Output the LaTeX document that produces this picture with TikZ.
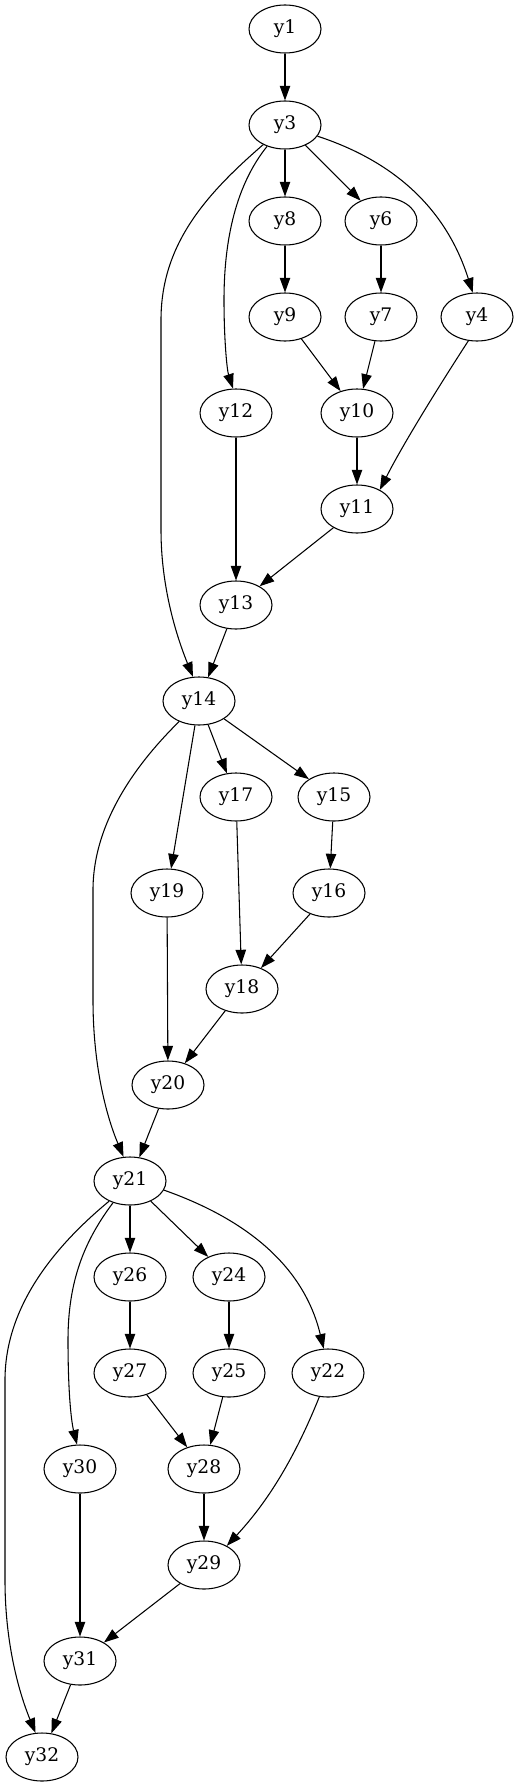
\documentclass[tikz,border=0pt]{standalone}
\usepackage{fontspec}
\setmainfont{DejaVu Serif}
\usetikzlibrary{shapes.geometric,arrows.meta}

\begin{document}
\begin{tikzpicture}[x=0.75pt, y=-0.75pt,
    yv/.style={ellipse, draw, line width=0.8pt, minimum width=54pt, minimum height=36pt, inner sep=0pt, font=\fontsize{14}{16}\selectfont},
    arr/.style={line width=0.8pt, -{Triangle[length=11pt, width=7.8pt]}}]

    \useasboundingbox (0,0) rectangle (519,1787);

    % upper block
    \node[yv] (y1) at (285,29) {y1};
    \node[yv] (y3) at (285,125) {y3};
    \node[yv] (y8) at (285,221) {y8};
    \node[yv] (y6) at (381,221) {y6};
    \node[yv] (y9) at (285,317) {y9};
    \node[yv] (y7) at (381,317) {y7};
    \node[yv] (y4) at (477,317) {y4};
    \node[yv] (y12) at (236,413) {y12};
    \node[yv] (y10) at (357,413) {y10};
    \node[yv] (y11) at (357,509) {y11};
    \node[yv] (y13) at (236,605) {y13};

    % middle block
    \node[yv] (y14) at (199,701) {y14};
    \node[yv] (y17) at (236,797) {y17};
    \node[yv] (y15) at (334,797) {y15};
    \node[yv] (y19) at (167,893) {y19};
    \node[yv] (y16) at (329,893) {y16};
    \node[yv] (y18) at (242,989) {y18};
    \node[yv] (y20) at (168,1085) {y20};

    % lower block
    \node[yv] (y21) at (130,1181) {y21};
    \node[yv] (y26) at (130,1277) {y26};
    \node[yv] (y24) at (229,1277) {y24};
    \node[yv] (y27) at (130,1373) {y27};
    \node[yv] (y25) at (229,1373) {y25};
    \node[yv] (y22) at (328,1373) {y22};
    \node[yv] (y30) at (80,1469) {y30};
    \node[yv] (y28) at (204,1469) {y28};
    \node[yv] (y29) at (204,1565) {y29};
    \node[yv] (y31) at (80,1661) {y31};
    \node[yv] (y32) at (42,1757) {y32};

    \draw[arr] (y1) -- (y3);
    \draw[arr] (y3) -- (y8);
    \draw[arr] (y3) -- (y6);
    \draw[arr] (y8) -- (y9);
    \draw[arr] (y6) -- (y7);
    \draw[arr] (y9) -- (y10);
    \draw[arr] (y7) -- (y10);
    \draw[arr] (y10) -- (y11);
    \draw[arr] (y4.250) .. controls (430,400) and (400,450) .. (y11.40);
    \draw[arr] (y12) -- (y13);
    \draw[arr] (y11) -- (y13);
    \draw[arr] (y13) -- (y14);
    \draw[arr] (y3.341) .. controls (390,160) and (445,205) .. (y4.100);
    \draw[arr] (y3.230) .. controls (240,180) and (224,230) .. (224,300) .. controls (224,340) and (227,370) .. (y12.97);
    \draw[arr] (y3.222) .. controls (205,195) and (161,245) .. (161,320) -- (161,530) .. controls (161,590) and (178,640) .. (y14.104);

    \draw[arr] (y14) -- (y17);
    \draw[arr] (y14) -- (y15);
    \draw[arr] (y14) -- (y19);
    \draw[arr] (y17) -- (y18);
    \draw[arr] (y15) -- (y16);
    \draw[arr] (y16) -- (y18);
    \draw[arr] (y19) -- (y20);
    \draw[arr] (y18) -- (y20);
    \draw[arr] (y20) -- (y21);
    \draw[arr] (y14.226) .. controls (140,760) and (93,820) .. (93,890) -- (93,1000) .. controls (93,1070) and (108,1120) .. (y21.105);

    \draw[arr] (y21) -- (y26);
    \draw[arr] (y21) -- (y24);
    \draw[arr] (y26) -- (y27);
    \draw[arr] (y24) -- (y25);
    \draw[arr] (y27) -- (y28);
    \draw[arr] (y25) -- (y28);
    \draw[arr] (y28) -- (y29);
    \draw[arr] (y22.250) .. controls (290,1470) and (260,1510) .. (y29.40);
    \draw[arr] (y29) -- (y31);
    \draw[arr] (y30) -- (y31);
    \draw[arr] (y31) -- (y32);
    \draw[arr] (y21.345) .. controls (220,1210) and (300,1250) .. (y22.100);
    \draw[arr] (y21.232) .. controls (85,1240) and (68,1280) .. (68,1340) .. controls (68,1390) and (71,1420) .. (y30.97);
    \draw[arr] (y21.224) .. controls (50,1250) and (5,1310) .. (5,1380) -- (5,1580) .. controls (5,1650) and (22,1700) .. (y32.105);
\end{tikzpicture}
\end{document}
